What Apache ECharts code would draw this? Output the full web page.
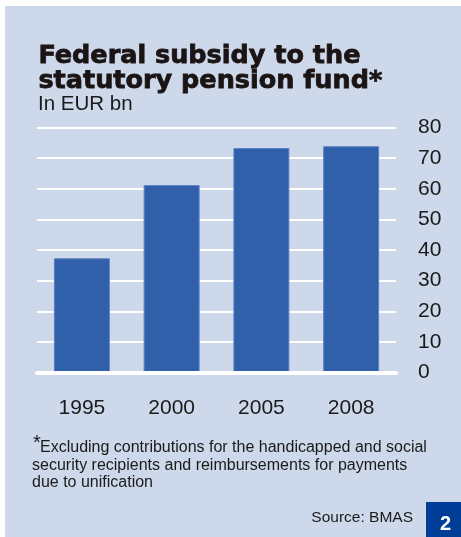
<!DOCTYPE html>
<html>
<head>
<meta charset="utf-8">
<script src="https://cdn.jsdelivr.net/npm/echarts@6/dist/echarts.min.js"></script>
<style>
html,body{margin:0;padding:0;background:#fff;}
#chart{width:461px;height:537px;}
</style>
</head>
<body>
<div id="chart"></div>
<script>
var categories = ['1995', '2000', '2005', '2008'];
var subsidy = [37.3, 61.2, 73.3, 73.9];
var yTicks = [0, 10, 20, 30, 40, 50, 60, 70, 80];

var titleLines = ['Federal subsidy to the', 'statutory pension fund*'];
var subtitle = 'In EUR bn';
var footnoteLines = [
  'Excluding contributions for the handicapped and social',
  'security recipients and reimbursements for payments',
  'due to unification'
];
var sourceText = 'Source: BMAS';
var pageNumber = '2';

var chart = echarts.init(document.getElementById('chart'), null, {renderer: 'canvas'});

var sans = '"Liberation Sans", Arial, Helvetica, sans-serif';
var heavy = '"DejaVu Sans", "Liberation Sans", sans-serif';

var graphics = [
  {type: 'rect', z: -10, shape: {x: 5, y: 6, width: 456, height: 531}, style: {fill: '#cdd8ea'}, silent: true},
  {type: 'text', left: 38, top: 43, style: {text: titleLines[0], font: 'bold 25.5px ' + heavy, fill: '#1a1414', stroke: '#1a1414', lineWidth: 0.8, verticalAlign: 'middle'}},
  {type: 'text', left: 38, top: 68, style: {text: titleLines[1], font: 'bold 25.5px ' + heavy, fill: '#1a1414', stroke: '#1a1414', lineWidth: 0.8, verticalAlign: 'middle'}},
  {type: 'text', left: 38, top: 94, style: {text: subtitle, font: '20.5px ' + sans, fill: '#1a1a1a', verticalAlign: 'middle'}},
  {type: 'text', x: 33, y: 443, style: {text: '*', font: '20px ' + sans, fill: '#1a1a1a', verticalAlign: 'middle'}},
  {type: 'text', x: 40, y: 448, style: {text: footnoteLines[0], font: '16px ' + sans, fill: '#1a1a1a', verticalAlign: 'middle'}},
  {type: 'text', x: 32, y: 465.5, style: {text: footnoteLines[1], font: '16px ' + sans, fill: '#1a1a1a', verticalAlign: 'middle'}},
  {type: 'text', x: 32, y: 483, style: {text: footnoteLines[2], font: '16px ' + sans, fill: '#1a1a1a', verticalAlign: 'middle'}},
  {type: 'text', x: 413, y: 518, style: {text: sourceText, font: '15.5px ' + sans, fill: '#1a1a1a', align: 'right', verticalAlign: 'middle'}},
  {type: 'rect', shape: {x: 426, y: 502, width: 35, height: 35}, style: {fill: '#003d96'}},
  {type: 'text', x: 445.5, y: 524, style: {text: pageNumber, font: 'bold 20px ' + sans, fill: '#ffffff', align: 'center', verticalAlign: 'middle'}}
];

chart.setOption({
  animation: false,
  backgroundColor: '#ffffff',
  graphic: graphics,
  grid: {left: 37, right: 65, top: 127.5, bottom: 164.5, containLabel: false},
  xAxis: {
    type: 'category',
    data: categories,
    z: 10,
    axisLine: {show: true, lineStyle: {color: '#ffffff', width: 4}},
    axisTick: {show: false},
    axisLabel: {color: '#1a1a1a', fontSize: 21, fontFamily: sans, margin: 25},
    splitLine: {show: false}
  },
  yAxis: {
    type: 'value',
    position: 'right',
    min: yTicks[0],
    max: yTicks[yTicks.length - 1],
    interval: yTicks[1] - yTicks[0],
    axisLine: {show: false},
    axisTick: {show: false},
    axisLabel: {color: '#1a1a1a', fontSize: 21, fontFamily: sans, margin: 22, align: 'left'},
    splitLine: {show: true, lineStyle: {color: '#ffffff', width: 2}}
  },
  series: [{
    type: 'bar',
    data: subsidy,
    barWidth: 56,
    itemStyle: {color: '#3160ab', borderColor: '#5e82c2', borderWidth: 1}
  }]
});
</script>
</body>
</html>
